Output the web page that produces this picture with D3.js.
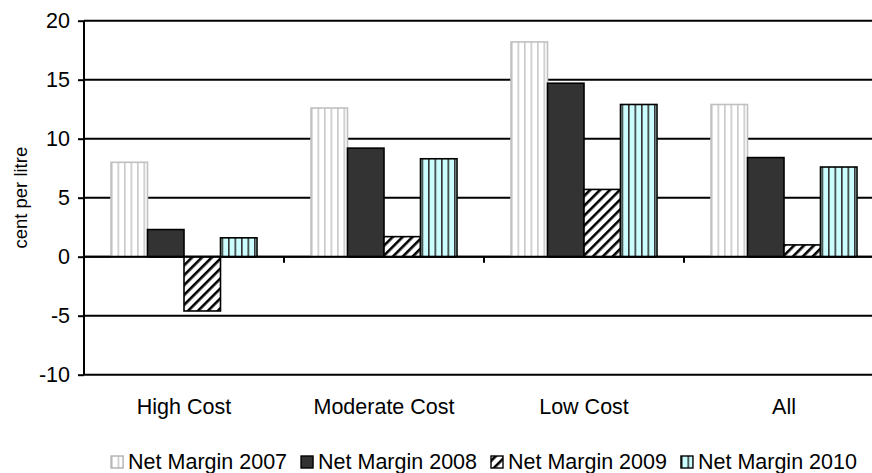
<!DOCTYPE html>
<html>
<head>
<meta charset="utf-8">
<script src="https://cdn.jsdelivr.net/npm/d3@7"></script>
<style>
  body { margin: 0; background: #fff; }
  svg { display: block; font-family: "Liberation Sans", Arial, sans-serif; }
</style>
</head>
<body>
<svg id="chart" width="872" height="473"></svg>
<script>
// chart data
var categories = ['High Cost', 'Moderate Cost', 'Low Cost', 'All'];
var seriesNames = ['Net Margin 2007', 'Net Margin 2008', 'Net Margin 2009', 'Net Margin 2010'];
var margin2007 = [8.0, 12.6, 18.2, 12.9];
var margin2008 = [2.3, 9.2, 14.7, 8.4];
var margin2009 = [-4.6, 1.7, 5.7, 1.0];
var margin2010 = [1.6, 8.3, 12.9, 7.6];
var yTicks = [-10, -5, 0, 5, 10, 15, 20];

var seriesValues = [margin2007, margin2008, margin2009, margin2010];

var svg = d3.select('#chart');
var fontSize = 21.5;

// layout (the plot runs a bit past the right edge, like the original)
var plot = {l: 84, r: 884, t: 20.7, b: 374.7};

var xScale = d3.scaleBand().domain(categories)
    .range([plot.l, plot.r])
    .paddingInner(0.27).paddingOuter(0.135);
var xInner = d3.scaleBand().domain(seriesNames).range([0, xScale.bandwidth()]).padding(0);
var yScale = d3.scaleLinear().domain([-10, 20]).range([plot.b, plot.t]);

// patterns
var defs = svg.append('defs');

var p07 = defs.append('pattern').attr('id', 'p2007')
    .attr('patternUnits', 'userSpaceOnUse').attr('width', 6.5).attr('height', 10);
p07.append('rect').attr('width', 6.5).attr('height', 10).attr('fill', '#fff');
p07.append('rect').attr('x', 0).attr('width', 1.6).attr('height', 10).attr('fill', '#c8c8c8');

var p09 = defs.append('pattern').attr('id', 'p2009')
    .attr('patternUnits', 'userSpaceOnUse').attr('width', 7).attr('height', 7)
    .attr('patternTransform', 'rotate(45)');
p09.append('rect').attr('width', 7).attr('height', 7).attr('fill', '#fff');
p09.append('rect').attr('x', 0).attr('width', 2.6).attr('height', 7).attr('fill', '#000');

var p10 = defs.append('pattern').attr('id', 'p2010')
    .attr('patternUnits', 'userSpaceOnUse').attr('width', 6.5).attr('height', 10);
p10.append('rect').attr('width', 6.5).attr('height', 10).attr('fill', '#ccffff');
p10.append('rect').attr('x', 0).attr('width', 1.6).attr('height', 10).attr('fill', '#333');

var fills = ['url(#p2007)', '#333333', 'url(#p2009)', 'url(#p2010)'];
var strokes = ['#c0c0c0', '#000', '#000', '#000'];

// gridlines
svg.append('g').selectAll('line').data(yTicks).enter()
    .append('line')
    .attr('x1', plot.l).attr('x2', plot.r)
    .attr('y1', d => yScale(d)).attr('y2', d => yScale(d))
    .attr('stroke', '#000').attr('stroke-width', 2);

// bars
var groups = svg.append('g').selectAll('g').data(categories).enter()
    .append('g')
    .attr('transform', d => 'translate(' + xScale(d) + ',0)');

groups.selectAll('rect')
    .data((c, ci) => seriesNames.map((s, si) => ({series: s, si: si, value: seriesValues[si][ci]})))
    .enter().append('rect')
    .attr('x', d => xInner(d.series))
    .attr('width', xInner.bandwidth())
    .attr('y', d => yScale(Math.max(0, d.value)))
    .attr('height', d => Math.abs(yScale(d.value) - yScale(0)))
    .attr('fill', d => fills[d.si])
    .attr('stroke', d => strokes[d.si])
    .attr('stroke-width', 1.6);

// y axis
var yAxis = d3.axisLeft(yScale).tickValues(yTicks).tickFormat(d => String(d))
    .tickSize(6).tickPadding(8);
var yAxisG = svg.append('g').attr('transform', 'translate(' + plot.l + ',0)').call(yAxis);
yAxisG.select('.domain').attr('stroke-width', 2).attr('d', 'M0,' + plot.t + 'V' + plot.b);
yAxisG.selectAll('.tick line').attr('stroke-width', 2);
yAxisG.selectAll('.tick text').attr('font-size', fontSize).attr('fill', '#000')
    .attr('font-family', '"Liberation Sans", Arial, sans-serif');

// x axis along zero
var xAxisG = svg.append('g').attr('transform', 'translate(0,' + yScale(0) + ')');
xAxisG.append('line').attr('x1', plot.l).attr('x2', plot.r)
    .attr('stroke', '#000').attr('stroke-width', 2);
xAxisG.selectAll('.xtick').data(categories).enter()
    .append('line')
    .attr('x1', d => xScale(d) + xScale.bandwidth() + xScale.step() * 0.135)
    .attr('x2', d => xScale(d) + xScale.bandwidth() + xScale.step() * 0.135)
    .attr('y1', 0).attr('y2', 6)
    .attr('stroke', '#000').attr('stroke-width', 2);

// category labels at bottom
svg.append('g').selectAll('text').data(categories).enter()
    .append('text')
    .attr('x', d => xScale(d) + xScale.bandwidth() / 2)
    .attr('y', 414)
    .attr('text-anchor', 'middle')
    .attr('font-size', fontSize)
    .text(d => d);

// y axis title, centred on the plot
svg.append('text')
    .attr('transform', 'translate(27,' + ((plot.t + plot.b) / 2) + ') rotate(-90)')
    .attr('text-anchor', 'middle')
    .attr('font-size', 18.5)
    .text('cent per litre');

// legend, centred under the chart
var legend = svg.append('g');
var lx = 0;
seriesNames.forEach(function(name, i) {
    var item = legend.append('g').attr('transform', 'translate(' + lx + ',0)');
    item.append('rect').attr('x', 0).attr('y', -13).attr('width', 12).attr('height', 12)
        .attr('fill', fills[i]).attr('stroke', i === 0 ? '#b0b0b0' : '#000').attr('stroke-width', 1.4);
    var t = item.append('text').attr('x', 17).attr('y', 0).attr('font-size', fontSize).text(name);
    lx += 17 + t.node().getComputedTextLength() + (i < seriesNames.length - 1 ? 14 : 0);
});
legend.attr('transform', 'translate(' + (484 - lx / 2) + ',469)');
</script>
</body>
</html>
